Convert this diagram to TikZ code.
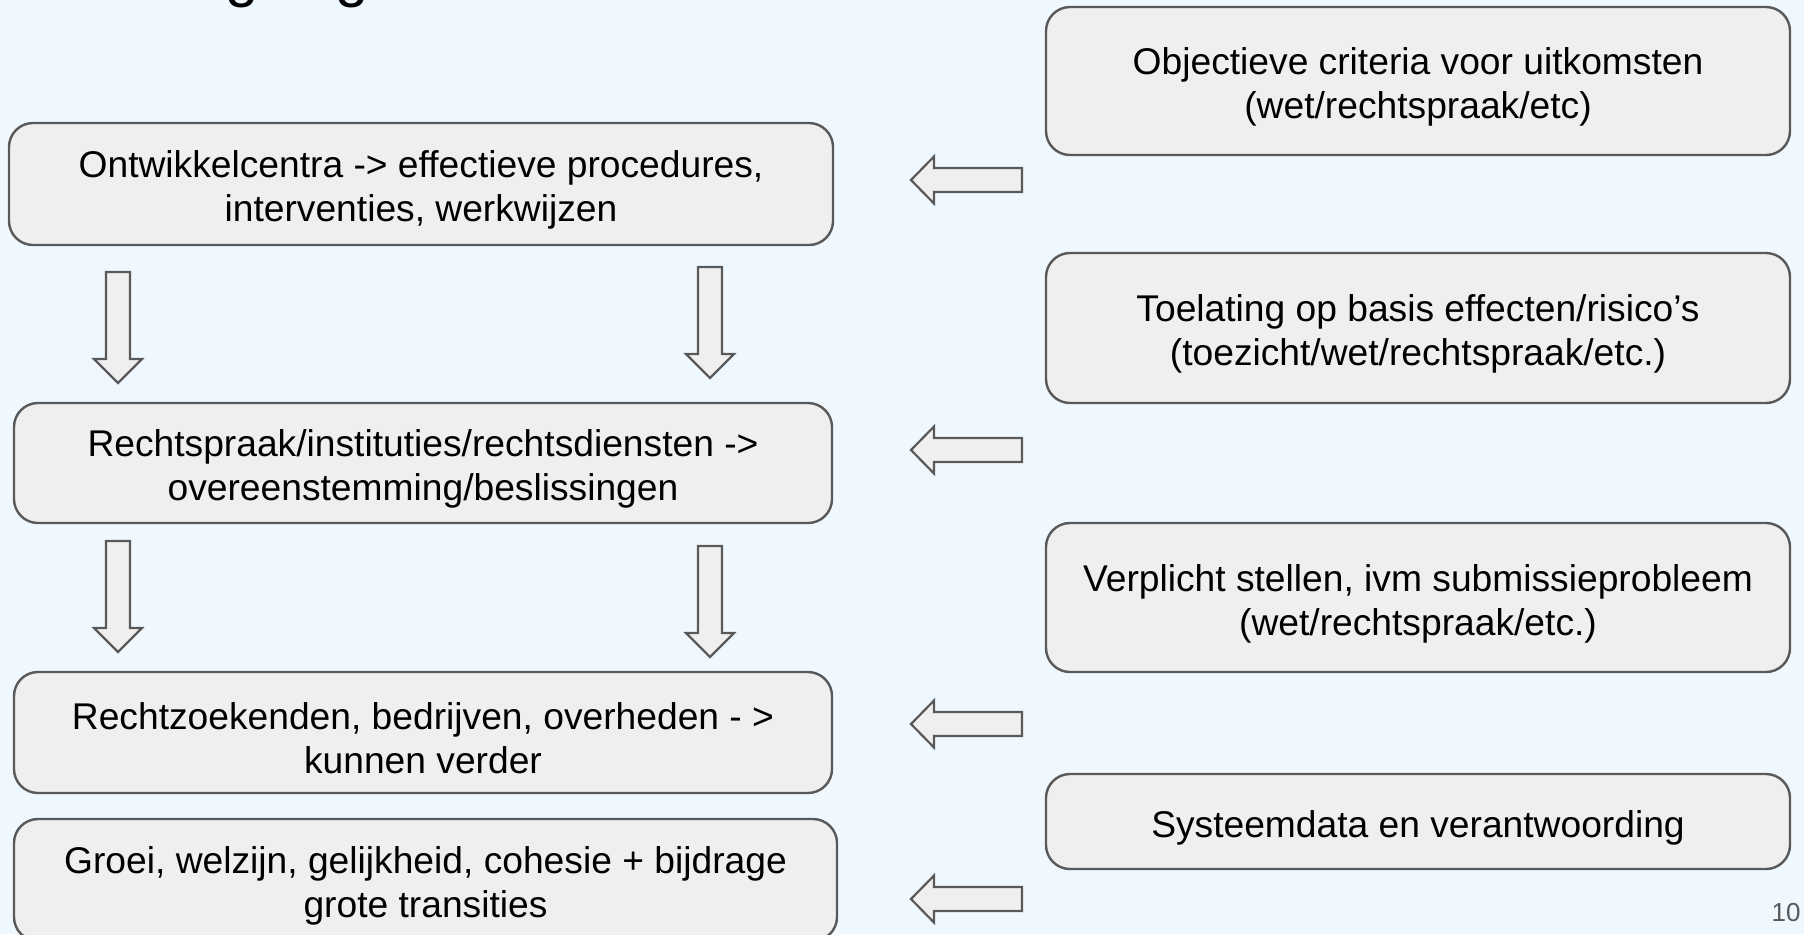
\documentclass[tikz,border=0pt]{standalone}
\usepackage{fontspec}
\setmainfont{Liberation Sans}
\usetikzlibrary{positioning}

\definecolor{slidebg}{HTML}{F0F8FF}
\definecolor{boxfill}{HTML}{EFEFEF}
\definecolor{boxline}{HTML}{595959}

% extra room above the first line, as on the slide
\newcommand{\topgap}{\rule{0pt}{19.5pt}}

\tikzset{
    box/.style={draw=boxline, fill=boxfill, line width=1.2pt, rounded corners=12pt,
        align=center, inner sep=0pt, font=\fontsize{18.6}{22}\selectfont},
    blockarrow/.style={draw=boxline, fill=boxfill, line width=1.1pt, line join=miter},
}

\begin{document}
\begin{tikzpicture}[x=0.5pt, y=-0.5pt]

    % Slide background
    \useasboundingbox (0,0) rectangle (1804,934);
    \fill[slidebg] (0,0) rectangle (1804,934);
    \clip (0,0) rectangle (1804,934);

    % Title, only its lower edge is left on the slide
    \node[anchor=base, inner sep=0pt, font=\fontsize{30}{36}\selectfont] (titleg1) at (242,-5) {g};
    \node[anchor=base, inner sep=0pt, font=\fontsize{30}{36}\selectfont] (titleg2) at (352,-5) {g};

    % Left column: the chain
    \node[box, minimum width=412pt, minimum height=61pt] (dev) at (421,184)
        {\topgap Ontwikkelcentra -> effectieve procedures,\\ interventies, werkwijzen};
    \node[box, minimum width=409pt, minimum height=60pt] (court) at (423,463)
        {\topgap Rechtspraak/instituties/rechtsdiensten ->\\ overeenstemming/beslissingen};
    \node[box, minimum width=409pt, minimum height=60.5pt] (parties) at (423,732.5)
        {\topgap Rechtzoekenden, bedrijven, overheden - >\\ kunnen verder};
    \node[box, minimum width=411.5pt, minimum height=61pt] (growth) at (425.5,880)
        {\topgap Groei, welzijn, gelijkheid, cohesie + bijdrage\\ grote transities};

    % Right column: the conditions
    \node[box, minimum width=372pt, minimum height=74pt] (crit) at (1418,81)
        {\topgap Objectieve criteria voor uitkomsten\\ (wet/rechtspraak/etc)};
    \node[box, minimum width=372pt, minimum height=75pt] (admit) at (1418,328)
        {\topgap Toelating op basis effecten/risico’s\\ (toezicht/wet/rechtspraak/etc.)};
    \node[box, minimum width=372pt, minimum height=74.5pt] (oblige) at (1418,597.5)
        {\topgap Verplicht stellen, ivm submissieprobleem\\ (wet/rechtspraak/etc.)};
    \node[box, minimum width=372pt, minimum height=47.5pt] (data) at (1418,821.5)
        {\topgap Systeemdata en verantwoording};

    % Block arrows pointing left
    \foreach \y in {180,450,724,899}
        \draw[blockarrow] (911,\y) -- ++(23,-23.5) -- ++(0,11.5) -- ++(88,0)
            -- ++(0,24) -- ++(-88,0) -- ++(0,11.5) -- cycle;

    % Block arrows pointing down
    \foreach \x/\y in {118/383, 710/378, 118/652, 710/657}
        \draw[blockarrow] (\x,\y) -- ++(-24,-24) -- ++(12,0) -- ++(0,-87)
            -- ++(24,0) -- ++(0,87) -- ++(12,0) -- cycle;

    % Slide number
    \node[anchor=base east, inner sep=0pt, text=boxline, font=\fontsize{13}{15}\selectfont] (pagenr) at (1801,921) {10};

\end{tikzpicture}
\end{document}
